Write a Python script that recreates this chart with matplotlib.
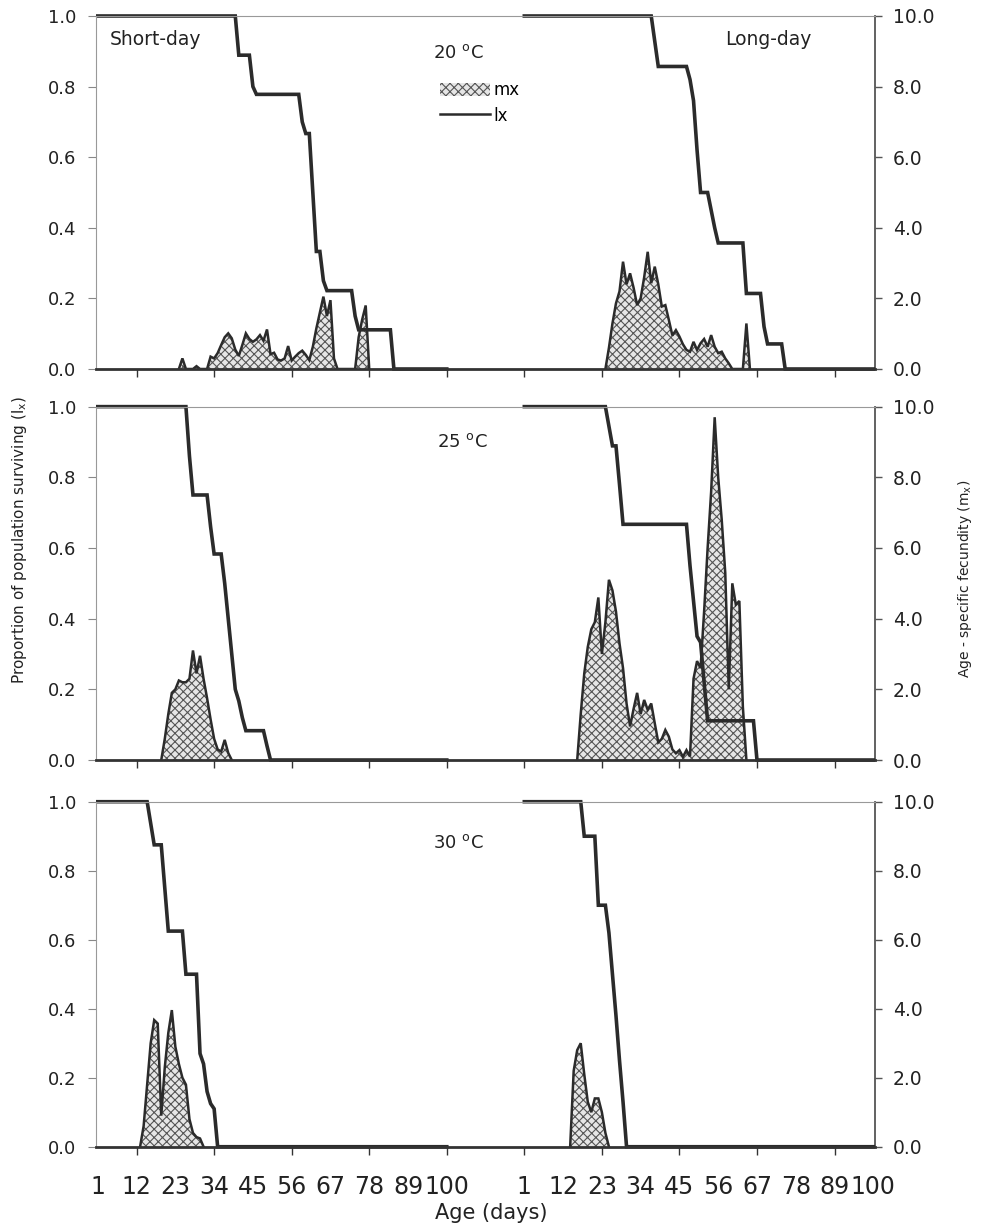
import matplotlib.pyplot as plt
import numpy as np
from matplotlib.patches import Patch
from matplotlib.lines import Line2D

plt.rcParams['font.family'] = ['DejaVu Sans']
plt.rcParams['hatch.linewidth'] = 0.8

# x axis: days 1..100 for short-day, then a gap, then days 1..100 for long-day
age_labels = [1, 12, 23, 34, 45, 56, 67, 78, 89, 100]
ld_shift = 121   # category index of long-day day 1
temps = ['20', '25', '30']

# ---- 20 C ----
sd20_lx_day = [1, 40, 41, 44, 45, 46, 58, 59, 60, 61, 62, 63, 64, 65, 66, 73, 74, 75, 84, 85, 100]
sd20_lx = [1.0, 1.0, 0.889, 0.889, 0.8, 0.778, 0.778, 0.7, 0.667, 0.667, 0.5, 0.333, 0.333,
           0.25, 0.222, 0.222, 0.15, 0.111, 0.111, 0.0, 0.0]
sd20_mx_day = [24, 25, 26, 28, 29, 30] + list(range(32, 70)) + [74, 75, 76, 77, 78]
sd20_mx = [0, 0.30, 0, 0, 0.08, 0,
           0, 0.35, 0.3, 0.45, 0.68, 0.9, 1.01, 0.87, 0.55, 0.37, 0.68, 1.01, 0.85, 0.77,
           0.84, 0.96, 0.8, 1.12, 0.42, 0.46, 0.27, 0.24, 0.3, 0.65, 0.24, 0.35, 0.45, 0.52,
           0.4, 0.25, 0.63, 1.15, 1.6, 2.05, 1.5, 1.95, 0.3, 0,
           0, 0.9, 1.4, 1.8, 0]
ld20_lx_day = [1, 37, 39, 47, 48, 49, 50, 51, 53, 54, 55, 56, 63, 64, 68, 69, 70, 74, 75, 100]
ld20_lx = [1.0, 1.0, 0.857, 0.857, 0.82, 0.76, 0.62, 0.5, 0.5, 0.45, 0.4, 0.357, 0.357,
           0.214, 0.214, 0.12, 0.071, 0.071, 0.0, 0.0]
ld20_mx_day = list(range(24, 61)) + [63, 64, 65]
ld20_mx = [0, 0.6, 1.29, 1.86, 2.2, 3.04, 2.4, 2.71, 2.3, 1.81, 2.0, 2.6, 3.32, 2.43, 2.9,
           2.4, 1.77, 1.81, 1.39, 0.95, 1.1, 0.92, 0.7, 0.54, 0.49, 0.77, 0.54, 0.73, 0.85,
           0.63, 0.96, 0.63, 0.45, 0.49, 0.3, 0.16, 0,
           0, 1.29, 0]

# ---- 25 C ----
sd25_lx_day = [1, 26, 27, 28, 32, 33, 34, 36, 37, 38, 39, 40, 41, 42, 43, 48, 49, 50, 100]
sd25_lx = [1.0, 1.0, 0.86, 0.75, 0.75, 0.66, 0.583, 0.583, 0.5, 0.4, 0.3, 0.2, 0.167, 0.12,
           0.083, 0.083, 0.04, 0.0, 0.0]
sd25_mx_day = list(range(19, 40))
sd25_mx = [0, 0.6, 1.3, 1.9, 2.0, 2.25, 2.2, 2.2, 2.3, 3.1, 2.45, 2.95, 2.3, 1.75, 1.15,
           0.6, 0.3, 0.24, 0.57, 0.2, 0]
ld25_lx_day = [1, 24, 26, 27, 28, 29, 47, 48, 49, 50, 51, 52, 53, 66, 67, 100]
ld25_lx = [1.0, 1.0, 0.889, 0.889, 0.78, 0.667, 0.667, 0.55, 0.45, 0.35, 0.333, 0.22,
           0.111, 0.111, 0.0, 0.0]
ld25_mx_day = list(range(16, 65))
ld25_mx = [0, 1.3, 2.45, 3.2, 3.7, 3.9, 4.6, 3.0, 3.9, 5.1,
           4.8, 4.2, 3.3, 2.6, 1.6, 0.95, 1.45, 1.9, 1.3, 1.7,
           1.42, 1.6, 1.04, 0.5, 0.6, 0.85, 0.66, 0.3, 0.19, 0.28,
           0.09, 0.28, 0.1, 2.3, 2.8, 2.6, 4.2, 6.0, 7.6, 9.7,
           8.0, 6.8, 5.3, 2.0, 5.0, 4.4, 4.5, 1.5, 0]

# ---- 30 C ----
sd30_lx_day = [1, 15, 17, 19, 20, 21, 25, 26, 29, 30, 31, 32, 33, 34, 35, 100]
sd30_lx = [1.0, 1.0, 0.875, 0.875, 0.75, 0.625, 0.625, 0.5, 0.5, 0.27, 0.24, 0.16, 0.125,
           0.11, 0.0, 0.0]
sd30_mx_day = list(range(13, 32))
sd30_mx = [0, 0.6, 1.8, 3.0, 3.67, 3.57, 0.9, 2.3, 3.3, 3.96, 2.9, 2.4, 2.0, 1.8, 0.8,
           0.4, 0.28, 0.24, 0]
ld30_lx_day = [1, 17, 18, 21, 22, 24, 25, 26, 27, 28, 29, 30, 100]
ld30_lx = [1.0, 1.0, 0.9, 0.9, 0.7, 0.7, 0.62, 0.5, 0.38, 0.25, 0.13, 0.0, 0.0]
ld30_mx_day = list(range(14, 26))
ld30_mx = [0, 2.2, 2.8, 3.0, 2.1, 1.3, 1.0, 1.4, 1.4, 1.0, 0.4, 0]

panels = [
    (sd20_lx_day, sd20_lx, sd20_mx_day, sd20_mx, ld20_lx_day, ld20_lx, ld20_mx_day, ld20_mx),
    (sd25_lx_day, sd25_lx, sd25_mx_day, sd25_mx, ld25_lx_day, ld25_lx, ld25_mx_day, ld25_mx),
    (sd30_lx_day, sd30_lx, sd30_mx_day, sd30_mx, ld30_lx_day, ld30_lx, ld30_mx_day, ld30_mx),
]

LINE = '#2b2b2b'
HATCH = '#555555'
FILL = '#e6e6e6'


def xpos(days, shift):
    return np.array(days, dtype=float) - 1 + shift


def plotting():
    fig = plt.figure(figsize=(9.83, 12.30), dpi=100)
    rects = [[0.0977, 0.7000, 0.7925, 0.2870],
             [0.0977, 0.3821, 0.7925, 0.2873],
             [0.0977, 0.0677, 0.7925, 0.2805]]
    temp_pos = [(0.4326, 0.895), (0.4377, 0.900), (0.4326, 0.880)]

    label_pos = [d - 1 for d in age_labels] + [d - 1 + ld_shift for d in age_labels]
    mark_pos = [11, 33, 55, 77, 99, 121, 143, 165, 187, 209]

    for i, (rect, data) in enumerate(zip(rects, panels)):
        sd_lx_d, sd_lx, sd_mx_d, sd_mx, ld_lx_d, ld_lx, ld_mx_d, ld_mx = data
        ax = fig.add_axes(rect)
        ax2 = ax.twinx()
        ax.set_zorder(ax2.get_zorder() + 1)
        ax.patch.set_visible(False)

        for mx_d, mx, shift in [(sd_mx_d, sd_mx, 0), (ld_mx_d, ld_mx, ld_shift)]:
            x = xpos(mx_d, shift)
            ax2.fill_between(x, mx, 0, facecolor=FILL, edgecolor=HATCH,
                             hatch='xxxx', linewidth=0)
            ax2.plot(x, mx, color=LINE, lw=1.8, solid_joinstyle='miter')
        for lx_d, lx, shift in [(sd_lx_d, sd_lx, 0), (ld_lx_d, ld_lx, ld_shift)]:
            ax.plot(xpos(lx_d, shift), lx, color=LINE, lw=2.6, clip_on=False,
                    solid_joinstyle='miter')

        ax.set_xlim(-0.5, 220.5)
        ax.set_ylim(0, 1.0)
        ax2.set_ylim(0, 10.0)
        ax.set_yticks(np.arange(0, 1.01, 0.2))
        ax.set_yticklabels(['%.1f' % v for v in np.arange(0, 1.01, 0.2)])
        ax2.set_yticks(np.arange(0, 10.1, 2.0))
        ax2.set_yticklabels(['%.1f' % v for v in np.arange(0, 10.1, 2.0)])

        ax.xaxis.remove_overlapping_locs = False
        ax.set_xticks(label_pos)
        if i == 2:
            ax.set_xticklabels([str(d) for d in age_labels] * 2)
        else:
            ax.set_xticklabels([])
        ax.set_xticks(mark_pos, minor=True)
        ax.tick_params(axis='x', which='major', length=0, pad=20, labelsize=17,
                       labelcolor='#222')
        ax.tick_params(axis='x', which='minor', length=6, width=1.0, color='#333')
        ax.tick_params(axis='y', length=6, width=0.8, color='#888', labelsize=13,
                       pad=8, labelcolor='#222')
        ax2.tick_params(axis='y', length=5, width=1.0, color='#555', labelsize=13.5,
                        pad=8, labelcolor='#222')

        for s in ['left', 'top']:
            ax.spines[s].set_linestyle((0, (1, 1)))
            ax.spines[s].set_color('#999')
            ax.spines[s].set_linewidth(0.8)
        ax.spines['right'].set_visible(False)
        ax.spines['bottom'].set_color('#333')
        ax.spines['bottom'].set_linewidth(2.0)
        for s in ['left', 'top', 'bottom']:
            ax2.spines[s].set_visible(False)
        ax2.spines['right'].set_color('#555')
        ax2.spines['right'].set_linewidth(1.3)

        ax.text(temp_pos[i][0], temp_pos[i][1], temps[i] + r' $^{\rm o}$C',
                transform=ax.transAxes, fontsize=13, ha='left', va='center',
                color='#222')

        if i == 0:
            ax.text(0.018, 0.932, 'Short-day', transform=ax.transAxes, fontsize=13.5,
                    ha='left', va='center', color='#222')
            ax.text(0.8074, 0.932, 'Long-day', transform=ax.transAxes, fontsize=13.5,
                    ha='left', va='center', color='#222')
            handles = [Patch(facecolor=FILL, edgecolor=HATCH, hatch='xxxx', lw=0),
                       Line2D([0], [0], color=LINE, lw=1.8)]
            ax.legend(handles, ['mx', 'lx'], loc='upper left',
                      bbox_to_anchor=(0.4416, 0.815), frameon=False, fontsize=12,
                      handlelength=3.0, handleheight=0.9, handletextpad=0.2,
                      borderpad=0, borderaxespad=0, labelspacing=0.45)

    fig.text(0.020, 0.561, r'Proportion of population surviving (l$_{\rm x}$)',
             rotation=90, ha='center', va='center', fontsize=11, color='#222')
    fig.text(0.982, 0.529, r'Age - specific fecundity (m$_{\rm x}$)',
             rotation=90, ha='center', va='center', fontsize=10, color='#222')
    fig.text(0.4995, 0.0138, 'Age (days)', ha='center', va='center', fontsize=15,
             color='#222')

    fig.savefig('out.png', dpi=100)


if __name__ == "__main__":
    plotting()
